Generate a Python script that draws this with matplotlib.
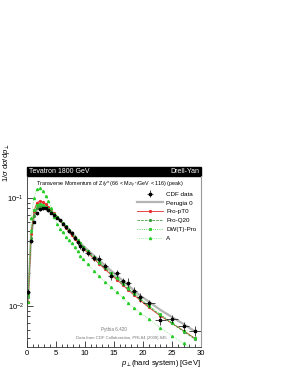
import numpy as np
import matplotlib
matplotlib.use("Agg")
import matplotlib.pyplot as plt
from matplotlib.patches import Rectangle
from matplotlib.ticker import MultipleLocator, LogLocator

plt.rcParams['font.family'] = ['Liberation Sans', 'DejaVu Sans']
plt.rcParams['mathtext.fontset'] = 'custom'
plt.rcParams['mathtext.rm'] = 'Liberation Sans'
plt.rcParams['mathtext.it'] = 'Liberation Sans:italic'

# bin centres and half widths (GeV)
pt = [0.25, 0.75, 1.25, 1.75, 2.25, 2.75, 3.25, 3.75, 4.25, 4.75, 5.25, 5.75, 6.25, 6.75,
      7.25, 7.75, 8.25, 8.75, 9.25, 9.75, 10.5, 11.5, 12.5, 13.5, 14.5, 15.5, 16.5, 17.5,
      18.5, 19.5, 21, 23, 25, 27, 29]
pt_halfwidth = [0.25] * 20 + [0.5] * 10 + [1.0] * 5

cdf_data = [0.0135, 0.040, 0.060, 0.072, 0.079, 0.080, 0.080, 0.077, 0.073, 0.069, 0.066, 0.062,
            0.058, 0.054, 0.050, 0.047, 0.043, 0.039, 0.036, 0.034, 0.031, 0.028, 0.0275, 0.0235,
            0.019, 0.020, 0.017, 0.0165, 0.0138, 0.012, 0.0106, 0.0074, 0.0076, 0.0065, 0.0059]
cdf_relerr = [0.06, 0.04, 0.03, 0.03, 0.03, 0.03, 0.03, 0.03, 0.03, 0.03, 0.04, 0.04, 0.04, 0.04,
              0.05, 0.05, 0.05, 0.05, 0.06, 0.06, 0.06, 0.07, 0.07, 0.07, 0.08, 0.08, 0.08, 0.09,
              0.09, 0.10, 0.08, 0.09, 0.09, 0.10, 0.10]

perugia0 = [0.012, 0.044, 0.067, 0.078, 0.083, 0.083, 0.081, 0.078, 0.074, 0.070, 0.066, 0.062,
            0.058, 0.054, 0.051, 0.047, 0.044, 0.041, 0.038, 0.036, 0.033, 0.0295, 0.0265, 0.0237,
            0.0213, 0.0192, 0.0172, 0.0155, 0.0139, 0.0125, 0.0110, 0.0092, 0.0079, 0.0068, 0.0058]
pro_pt0 = [0.011, 0.046, 0.076, 0.090, 0.094, 0.092, 0.088, 0.083, 0.077, 0.072, 0.067, 0.062,
           0.057, 0.053, 0.049, 0.045, 0.042, 0.039, 0.036, 0.034, 0.031, 0.0275, 0.0245, 0.0218,
           0.0195, 0.0175, 0.0157, 0.0140, 0.0126, 0.0113, 0.0097, 0.0081, 0.0069, 0.0059, 0.0050]
pro_q20 = [0.012, 0.043, 0.068, 0.080, 0.085, 0.085, 0.083, 0.079, 0.075, 0.071, 0.067, 0.062,
           0.058, 0.054, 0.050, 0.047, 0.043, 0.040, 0.037, 0.035, 0.032, 0.028, 0.025, 0.0224,
           0.020, 0.018, 0.016, 0.0144, 0.0129, 0.0116, 0.0099, 0.0082, 0.0069, 0.0058, 0.0049]
dwt_pro = [0.013, 0.050, 0.077, 0.087, 0.088, 0.086, 0.083, 0.079, 0.075, 0.071, 0.067, 0.063,
           0.059, 0.055, 0.051, 0.047, 0.044, 0.041, 0.038, 0.035, 0.032, 0.0285, 0.0255, 0.0228,
           0.0204, 0.0183, 0.0164, 0.0147, 0.0132, 0.0118, 0.0101, 0.0084, 0.0070, 0.0059, 0.0050]
tune_a = [0.011, 0.065, 0.100, 0.120, 0.123, 0.117, 0.105, 0.094, 0.081, 0.067, 0.058, 0.052,
          0.048, 0.044, 0.041, 0.038, 0.035, 0.032, 0.029, 0.027, 0.0245, 0.0213, 0.0189, 0.0168,
          0.0150, 0.0134, 0.0120, 0.0107, 0.0096, 0.0087, 0.0076, 0.0063, 0.0053, 0.0045, 0.0038]

W, H = 289, 374
fig = plt.figure(figsize=(W / 100, H / 100), dpi=100)
ax = fig.add_axes([26.7 / W, 1 - 347 / H, (201 - 26.7) / W, (347 - 176) / H])

ax.plot(pt, perugia0, color='#b4b4b4', lw=1.6, label='Perugia 0')
ax.plot(pt, pro_pt0, color='#e8282a', lw=0.6, marker='o', ms=1.3, label='Pro-pT0')
ax.plot(pt, pro_q20, color='#3a9a3a', lw=0.6, ls=(0, (3, 1.5)), marker='o', ms=1.3, label='Pro-Q20')
ax.plot(pt, dwt_pro, color='#2ecc2e', lw=0.6, ls=':', marker='s', ms=1.2, label='DW(T)-Pro')
ax.plot(pt, tune_a, color='#8ee88e', lw=0.6, ls=(0, (1, 1.2)), marker='^', ms=1.5,
        mfc='#22cc22', mec='#22cc22', label='A')

yerr = np.array(cdf_data) * np.array(cdf_relerr)
ax.errorbar(pt, cdf_data, xerr=pt_halfwidth, yerr=yerr, fmt='s', color='black', ms=2.0,
            elinewidth=0.5, capsize=0, label='CDF data', zorder=5)

ax.set_yscale('log')
ax.set_xlim(0, 30)
ax.set_ylim(0.00417, 0.16)
ax.xaxis.set_major_locator(MultipleLocator(5))
ax.xaxis.set_minor_locator(MultipleLocator(1))
ax.yaxis.set_major_locator(LogLocator(base=10))
ax.yaxis.set_minor_locator(LogLocator(base=10, subs=np.arange(2, 10)))
ax.yaxis.set_minor_formatter(plt.NullFormatter())
ax.tick_params(which='both', direction='in', labelsize=5.5, width=0.5, top=False, right=False)
ax.tick_params(which='major', length=4, pad=2)
ax.tick_params(which='minor', length=2)
for side in ['left', 'bottom']:
    ax.spines[side].set_linewidth(0.6)
    ax.spines[side].set_color('#333333')
ax.spines['right'].set_color('#999999')
ax.spines['right'].set_linewidth(0.8)
ax.spines['top'].set_visible(False)

# title bar
ax.add_patch(Rectangle((0, 1), 1, 9 / 171, transform=ax.transAxes, color='black', clip_on=False))
ax.text(0.012, 1 + 4.5 / 171, 'Tevatron 1800 GeV', transform=ax.transAxes, color='white',
        fontsize=5, va='center', ha='left')
ax.text(0.99, 1 + 4.5 / 171, 'Drell-Yan', transform=ax.transAxes, color='white',
        fontsize=5, va='center', ha='right')
ax.text(0.055, 1 - 9 / 171, r'Transverse Momentum of Z/$\gamma$* (66 < M$_{Z/\gamma*}$/GeV < 116) (peak)',
        transform=ax.transAxes, fontsize=3.9, va='center', ha='left')

ax.text(0.5, (347 - 329) / 171, 'Pythia 6.420', transform=ax.transAxes, fontsize=3.3,
        color='#777777', ha='center', va='center')
ax.text(0.54, (347 - 338) / 171, 'Data from CDF Collaboration, PRL84 (2000) 845',
        transform=ax.transAxes, fontsize=3.1, color='#777777', ha='center', va='center')

handles, labels = ax.get_legend_handles_labels()
order = [5, 0, 1, 2, 3, 4]
ax.legend([handles[i] for i in order], [labels[i] for i in order], loc='upper right',
          bbox_to_anchor=(1.0, (347 - 187) / 171), frameon=False, fontsize=4.5, handlelength=4.2,
          labelspacing=0.55, handletextpad=0.5, borderaxespad=0.3)

ax.set_xlabel(r'$p_{\perp}$(hard system) [GeV]', fontsize=5.5, ha='right', labelpad=2)
ax.xaxis.set_label_coords(1.0, -0.065)
fig.text(6 / W, 1 - 143 / H, r'1/$\sigma$ d$\sigma$/d$p_{\perp}$', rotation=90, fontsize=5.5,
         ha='center', va='top')

fig.savefig('out.png', dpi=100)
